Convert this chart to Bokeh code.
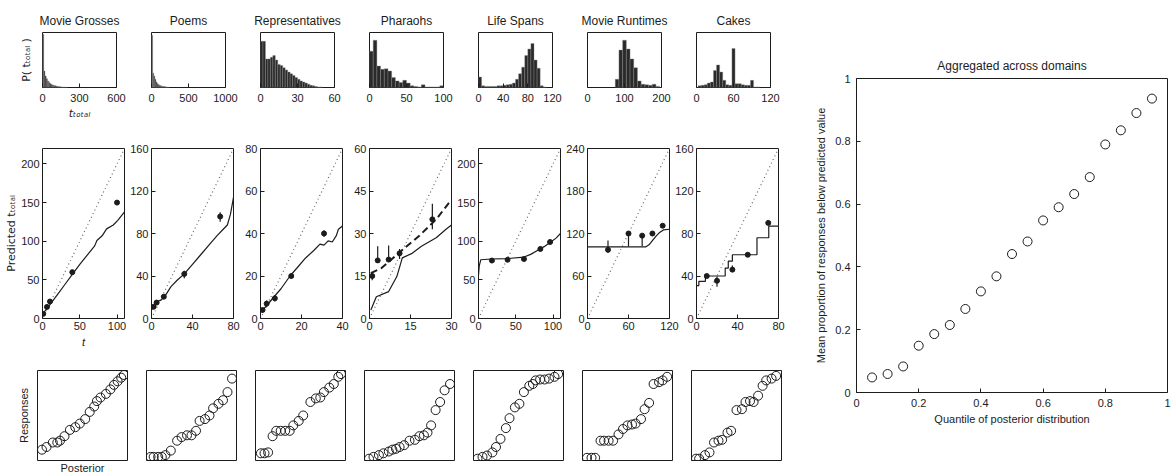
import numpy as np
from bokeh.plotting import figure
from bokeh.layouts import row, column
from bokeh.models import Range1d, FixedTicker
from bokeh.embed import file_html
from bokeh.resources import INLINE

FONT = "Liberation Sans"
SUB_FONT = "DejaVu Sans"
INK = "#1c1c1c"

domains = ["Movie Grosses", "Poems", "Representatives", "Pharaohs",
           "Life Spans", "Movie Runtimes", "Cakes"]

# ---------------- prior distributions P(t_total) ----------------
grosses_bin_width = 10
grosses_bins = [5, 15, 25, 35, 45, 55, 65, 75, 85, 95, 105, 115, 125, 135, 145, 155, 165, 175, 185, 195]
grosses_freq = [0.97, 0.30, 0.21, 0.16, 0.12, 0.09, 0.07, 0.055, 0.045, 0.035, 0.03, 0.025, 0.02, 0.015, 0.012, 0.01, 0.008, 0.006, 0.005, 0.004]

poems_bin_width = 15
poems_bins = [7.5, 22.5, 37.5, 52.5, 67.5, 82.5, 97.5, 112.5, 127.5, 142.5, 157.5, 172.5, 187.5, 202.5, 217.5, 232.5]
poems_freq = [0.95, 0.26, 0.21, 0.15, 0.10, 0.07, 0.05, 0.04, 0.03, 0.025, 0.02, 0.016, 0.013, 0.01, 0.008, 0.006]

reps_bin_width = 2
reps_bins = [1, 3, 5, 7, 9, 11, 13, 15, 17, 19, 21, 23, 25, 27, 29, 31, 33, 35, 37, 39, 41, 43, 45, 47, 49]
reps_freq = [0.84, 0.84, 0.52, 0.52, 0.55, 0.58, 0.50, 0.42, 0.40, 0.36, 0.32, 0.28, 0.25, 0.22, 0.18, 0.15, 0.12, 0.10, 0.08, 0.06, 0.04, 0.03, 0.02, 0.01, 0.01]

pharaohs_bin_width = 5
pharaohs_bins = [2.5, 7.5, 12.5, 17.5, 22.5, 27.5, 32.5, 37.5, 42.5, 47.5, 52.5, 57.5, 62.5, 67.5, 72.5, 77.5, 82.5, 87.5, 92.5, 97.5]
pharaohs_freq = [0.66, 0.86, 0.39, 0.33, 0.34, 0.30, 0.18, 0.12, 0.09, 0.13, 0.08, 0.03, 0.02, 0.01, 0.05, 0.01, 0.01, 0.01, 0.01, 0.03]

life_bin_width = 5
life_bins = [2.5, 7.5, 12.5, 17.5, 22.5, 27.5, 32.5, 37.5, 42.5, 47.5, 52.5, 57.5, 62.5, 67.5, 72.5, 77.5, 82.5, 87.5, 92.5, 97.5, 102.5, 107.5]
life_freq = [0.19, 0.03, 0.02, 0.02, 0.02, 0.02, 0.03, 0.03, 0.04, 0.05, 0.06, 0.08, 0.15, 0.25, 0.37, 0.58, 0.70, 0.80, 0.50, 0.35, 0.03, 0.01]

runtimes_bin_width = 10
runtimes_bins = [80, 90, 100, 110, 120, 130, 140, 150, 160, 170, 180, 190]
runtimes_freq = [0.15, 0.68, 0.86, 0.70, 0.52, 0.36, 0.12, 0.06, 0.05, 0.04, 0.06, 0.02]

cakes_bin_width = 5
cakes_bins = [5, 10, 15, 20, 25, 30, 35, 40, 45, 50, 55, 60, 65, 70, 75, 80, 85, 90, 95, 100]
cakes_freq = [0.03, 0.04, 0.05, 0.08, 0.10, 0.31, 0.41, 0.28, 0.13, 0.05, 0.04, 0.71, 0.07, 0.07, 0.05, 0.04, 0.04, 0.13, 0.01, 0.01]

prior_xmax = [600, 1000, 60, 100, 120, 200, 120]
prior_ticks = [[0, 300, 600], [0, 500, 1000], [0, 30, 60], [0, 50, 100],
               [0, 40, 80, 120], [0, 100, 200], [0, 60, 120]]

# ---------------- predictions: responses and model ----------------
grosses_t = [1, 6, 10, 40, 100]
grosses_resp = [6, 15, 22, 60, 150]
grosses_lo = [4, 13, 20, 58, 148]
grosses_hi = [8, 17, 24, 62, 152]
grosses_model_t = [0, 2, 5, 10, 20, 30, 40, 50, 60, 70, 73, 80, 86, 95, 101, 110]
grosses_model = [3, 8, 12, 18, 31, 44, 57, 70, 82, 94, 101, 107, 116, 121, 127, 138]

poems_t = [2, 5, 12, 32, 67]
poems_resp = [11, 15, 20.5, 42, 96]
poems_lo = [10, 14, 19, 38, 91]
poems_hi = [12, 16, 22, 45, 100]
poems_model_t = [0, 3, 6.4, 9, 12.8, 19, 25, 32, 40, 48, 56, 64, 70, 74, 77, 80]
poems_model = [8, 12, 16.5, 17, 20.6, 30, 36, 42, 51, 60, 69, 78, 84, 88, 98, 114]

reps_t = [1, 3, 7, 15, 31]
reps_resp = [4, 7, 9.5, 20, 40]
reps_lo = [3, 5.5, 8, 19, 38.5]
reps_hi = [5, 8.5, 11, 21, 41.5]
reps_model_t = [0, 3, 6.4, 10, 14.4, 18, 22, 26, 29, 31, 33, 35, 37, 38, 40]
reps_model = [3, 6, 10, 14, 20, 24, 28.5, 32, 35, 34.5, 36.5, 36, 39, 42, 43.5]

pharaohs_t = [1, 3, 7, 11, 23]
pharaohs_resp = [15, 20.5, 20.8, 23, 35]
pharaohs_lo = [13.5, 20.5, 20.8, 21, 31.5]
pharaohs_hi = [16, 25.5, 25.8, 24.5, 40.5]
pharaohs_model_t = [0.5, 2.5, 7, 10, 12, 15.6, 19, 24.4, 28, 30]
pharaohs_model = [3, 7.7, 9.5, 14.8, 21.4, 23, 25.5, 28.5, 31.5, 33]
pharaohs_alt_t = [0.5, 4.4, 8, 13, 18, 24.4, 30]
pharaohs_alt = [16, 17.8, 20.8, 25, 29, 35, 42]

life_t = [18, 39, 61, 83, 96]
life_resp = [75, 76, 77, 90, 99]
life_lo = [73, 74, 75, 88, 97]
life_hi = [77, 78, 80, 92, 101]
life_model_t = [0, 1, 3, 17, 38, 61, 70, 79, 88, 97, 104, 110]
life_model = [56, 68, 76, 77, 77.5, 79.5, 83, 88, 93, 99, 104, 110]

runtimes_t = [30, 60, 80, 95, 110]
runtimes_resp = [97, 120, 117, 120, 131]
runtimes_lo = [93, 102, 102, 118, 129]
runtimes_hi = [110, 122, 119, 122, 133]
runtimes_model_t = [0, 85, 90, 95, 100, 105, 111, 120]
runtimes_model = [101, 101, 104, 110, 116, 121, 125, 126]

cakes_t = [10, 20, 35, 50, 70]
cakes_resp = [40, 35.5, 46, 60, 90]
cakes_lo = [38, 30, 44, 59, 89]
cakes_hi = [42, 39.6, 50, 61, 91]
cakes_model_t = [0, 2.3, 8.7, 28, 31, 35, 59, 70.5, 80]
cakes_model = [31, 35, 40, 47.5, 54, 60, 76, 87, 87]

pred_xmax = [110, 80, 40, 30, 110, 120, 80]
pred_ymax = [220, 160, 80, 60, 220, 240, 160]
pred_xticks = [[0, 50, 100], [0, 40, 80], [0, 20, 40], [0, 15, 30],
               [0, 50, 100], [0, 60, 120], [0, 40, 80]]
pred_yticks = [[0, 50, 100, 150, 200], [0, 40, 80, 120, 160], [0, 20, 40, 60, 80],
               [0, 15, 30, 45, 60], [0, 50, 100, 150, 200], [0, 60, 120, 180, 240],
               [0, 40, 80, 120, 160]]

# ---------------- response quantiles vs posterior quantiles ----------------
grosses_post_q = [0.05, 0.10, 0.17, 0.22, 0.25, 0.30, 0.36, 0.42, 0.47, 0.53, 0.58, 0.63, 0.66, 0.70, 0.76, 0.81, 0.85, 0.89, 0.93, 0.96]
grosses_resp_q = [0.12, 0.15, 0.20, 0.20, 0.22, 0.27, 0.34, 0.37, 0.41, 0.46, 0.54, 0.60, 0.66, 0.70, 0.74, 0.79, 0.84, 0.88, 0.92, 0.95]

poems_post_q = [0.045, 0.08, 0.13, 0.17, 0.21, 0.27, 0.34, 0.39, 0.45, 0.50, 0.55, 0.59, 0.65, 0.70, 0.74, 0.80, 0.85, 0.90, 0.95]
poems_resp_q = [0.04, 0.04, 0.04, 0.04, 0.06, 0.11, 0.22, 0.26, 0.28, 0.28, 0.33, 0.44, 0.46, 0.50, 0.58, 0.63, 0.67, 0.76, 0.91]

reps_post_q = [0.06, 0.10, 0.14, 0.19, 0.23, 0.28, 0.33, 0.38, 0.42, 0.48, 0.53, 0.61, 0.67, 0.72, 0.76, 0.82, 0.87, 0.92, 0.95]
reps_resp_q = [0.08, 0.08, 0.09, 0.27, 0.33, 0.33, 0.33, 0.33, 0.39, 0.44, 0.50, 0.65, 0.69, 0.70, 0.76, 0.81, 0.85, 0.93, 0.96]

pharaohs_post_q = [0.05, 0.10, 0.16, 0.21, 0.27, 0.31, 0.35, 0.39, 0.44, 0.50, 0.56, 0.61, 0.66, 0.70, 0.74, 0.79, 0.84, 0.89, 0.95]
pharaohs_resp_q = [0.02, 0.04, 0.06, 0.08, 0.10, 0.12, 0.13, 0.15, 0.17, 0.22, 0.23, 0.27, 0.28, 0.31, 0.39, 0.56, 0.65, 0.78, 0.85]

life_post_q = [0.045, 0.10, 0.15, 0.21, 0.25, 0.30, 0.36, 0.40, 0.46, 0.51, 0.56, 0.62, 0.66, 0.69, 0.74, 0.79, 0.84, 0.90, 0.94]
life_resp_q = [0.02, 0.04, 0.055, 0.09, 0.15, 0.24, 0.36, 0.47, 0.59, 0.63, 0.76, 0.83, 0.85, 0.89, 0.90, 0.90, 0.91, 0.93, 0.96]

runtimes_post_q = [0.05, 0.10, 0.14, 0.20, 0.24, 0.29, 0.34, 0.40, 0.45, 0.50, 0.55, 0.59, 0.65, 0.69, 0.74, 0.79, 0.85, 0.89, 0.94]
runtimes_resp_q = [0.03, 0.03, 0.03, 0.22, 0.22, 0.22, 0.22, 0.29, 0.35, 0.39, 0.40, 0.41, 0.46, 0.57, 0.64, 0.85, 0.87, 0.89, 0.93]

cakes_post_q = [0.05, 0.085, 0.15, 0.20, 0.25, 0.30, 0.34, 0.40, 0.44, 0.50, 0.56, 0.60, 0.65, 0.69, 0.74, 0.79, 0.83, 0.89, 0.94]
cakes_resp_q = [0.02, 0.02, 0.06, 0.09, 0.20, 0.22, 0.23, 0.31, 0.33, 0.56, 0.57, 0.65, 0.66, 0.65, 0.72, 0.83, 0.89, 0.91, 0.94]

# ---------------- aggregated across domains ----------------
agg_quantile = [0.05, 0.10, 0.15, 0.20, 0.25, 0.30, 0.35, 0.40, 0.45, 0.50,
                0.55, 0.60, 0.65, 0.70, 0.75, 0.80, 0.85, 0.90, 0.95]
agg_proportion = [0.048, 0.059, 0.083, 0.149, 0.186, 0.215, 0.266, 0.322, 0.370, 0.441,
                  0.481, 0.548, 0.590, 0.632, 0.686, 0.790, 0.835, 0.890, 0.936]

priors = [(grosses_bins, grosses_freq, grosses_bin_width),
          (poems_bins, poems_freq, poems_bin_width),
          (reps_bins, reps_freq, reps_bin_width),
          (pharaohs_bins, pharaohs_freq, pharaohs_bin_width),
          (life_bins, life_freq, life_bin_width),
          (runtimes_bins, runtimes_freq, runtimes_bin_width),
          (cakes_bins, cakes_freq, cakes_bin_width)]

predictions = [
    (grosses_t, grosses_resp, grosses_lo, grosses_hi, grosses_model_t, grosses_model),
    (poems_t, poems_resp, poems_lo, poems_hi, poems_model_t, poems_model),
    (reps_t, reps_resp, reps_lo, reps_hi, reps_model_t, reps_model),
    (pharaohs_t, pharaohs_resp, pharaohs_lo, pharaohs_hi, pharaohs_model_t, pharaohs_model),
    (life_t, life_resp, life_lo, life_hi, life_model_t, life_model),
    (runtimes_t, runtimes_resp, runtimes_lo, runtimes_hi, runtimes_model_t, runtimes_model),
    (cakes_t, cakes_resp, cakes_lo, cakes_hi, cakes_model_t, cakes_model),
]

quantiles = [(grosses_post_q, grosses_resp_q), (poems_post_q, poems_resp_q),
             (reps_post_q, reps_resp_q), (pharaohs_post_q, pharaohs_resp_q),
             (life_post_q, life_resp_q), (runtimes_post_q, runtimes_resp_q),
             (cakes_post_q, cakes_resp_q)]

T_TOTAL = "t\u209c\u2092\u209c\u2090\u2097"


def new_fig(fw, fh, left, right, top, bottom, xr, yr, shift=0, title=None, title_gap=6):
    p = figure(frame_width=fw, frame_height=fh,
               min_border_left=left, min_border_right=right,
               min_border_top=top, min_border_bottom=bottom,
               x_range=Range1d(*xr), y_range=Range1d(*yr),
               output_backend="svg", toolbar_location=None,
               background_fill_color=None, border_fill_color=None,
               margin=(0, 0, 0, shift), title=title)
    p.outline_line_color = INK
    p.outline_line_width = 1
    p.xgrid.visible = False
    p.ygrid.visible = False
    for ax in p.axis:
        ax.axis_line_color = None
        ax.major_tick_in = 4
        ax.major_tick_out = 0
        ax.major_tick_line_color = INK
        ax.minor_tick_line_color = None
        ax.major_label_text_font = FONT
        ax.major_label_text_font_size = "11px"
        ax.major_label_text_color = INK
        ax.major_label_standoff = 3
        ax.axis_label_text_color = INK
        ax.axis_label_text_font_style = "normal"
        ax.axis_label_text_font_size = "11px"
        ax.axis_label_text_font = FONT
    if title:
        p.title.align = "center"
        p.title.text_font = FONT
        p.title.text_font_size = "12px"
        p.title.text_font_style = "normal"
        p.title.text_color = INK
        p.title.standoff = title_gap
    return p


def set_label(ax, text, standoff, font=FONT, style="normal"):
    ax.axis_label = text
    ax.axis_label_standoff = standoff
    ax.axis_label_text_font = font
    ax.axis_label_text_font_style = style


# ---------------- top row: priors ----------------
top_figs = []
for k, name in enumerate(domains):
    bins, freq, width = priors[k]
    p = new_fig(74, 55, 42 if k == 0 else 24, 20, 32, 45,
                (0, prior_xmax[k]), (0, 1), shift=0 if k == 0 else -9,
                title=name, title_gap=9)
    c = np.array(bins, dtype=float)
    p.quad(left=c - width / 2, right=c + width / 2, bottom=0, top=freq,
           fill_color="#2a2a2a", line_color="#8a8a8a", line_width=0.4)
    p.xaxis.ticker = FixedTicker(ticks=prior_ticks[k])
    p.yaxis.ticker = FixedTicker(ticks=[])
    p.xaxis.major_label_standoff = 6
    if k == 0:
        p.yaxis.major_label_standoff = 0
        set_label(p.yaxis[0], "P( " + T_TOTAL + " )", 10, font=SUB_FONT)
        set_label(p.xaxis[0], T_TOTAL, 2, font=SUB_FONT, style="italic")
    top_figs.append(p)

# ---------------- middle row: predictions ----------------
mid_figs = []
for k, name in enumerate(domains):
    t, resp, lo, hi, mt, mv = predictions[k]
    xmax, ymax = pred_xmax[k], pred_ymax[k]
    p = new_fig(82, 170, 42 if k == 0 else 28, 12, 16, 37,
                (0, xmax), (0, ymax), shift=0 if k == 0 else -13)
    p.line([0, xmax], [0, ymax], line_color="#6a6a6a", line_dash="1 3", line_width=1.2)
    if name == "Cakes":
        p.step(mt, mv, mode="after", line_color=INK, line_width=1.2)
    else:
        p.line(mt, mv, line_color=INK, line_width=1.2)
    if name == "Pharaohs":
        p.line(pharaohs_alt_t, pharaohs_alt, line_color=INK, line_width=2, line_dash="7 4")
    p.segment(x0=t, y0=lo, x1=t, y1=hi, line_color=INK, line_width=1.2)
    p.scatter(t, resp, size=5, fill_color=INK, line_color=INK)
    p.xaxis.ticker = FixedTicker(ticks=pred_xticks[k])
    p.yaxis.ticker = FixedTicker(ticks=pred_yticks[k])
    if k == 0:
        set_label(p.yaxis[0], "Predicted " + T_TOTAL, 0, font=SUB_FONT)
        set_label(p.xaxis[0], "t", 3, style="italic")
    mid_figs.append(p)

# ---------------- bottom row: quantile comparison ----------------
bot_figs = []
for k, name in enumerate(domains):
    q_post, q_resp = quantiles[k]
    p = new_fig(90, 90, 37 if k == 0 else 10, 9, 15, 13, (0, 1), (0, 1))
    if k == 0:
        for ax in p.axis:
            ax.ticker = FixedTicker(ticks=[])
            ax.major_label_standoff = 0
        set_label(p.yaxis[0], "Responses", 8)
        set_label(p.xaxis[0], "Posterior", 1)
    else:
        p.axis.visible = False
    p.scatter(q_post, q_resp, size=9, marker="circle", fill_color=None,
              line_color=INK, line_width=1)
    bot_figs.append(p)

# ---------------- right panel ----------------
agg = new_fig(311, 314, 66, 7, 78, 81, (0, 1), (0, 1),
              title="Aggregated across domains", title_gap=11)
agg.scatter(agg_quantile, agg_proportion, size=9, marker="circle", fill_color=None,
            line_color=INK, line_width=1)
ticks01 = [0, 0.2, 0.4, 0.6, 0.8, 1]
labels01 = {0: "0", 0.2: "0.2", 0.4: "0.4", 0.6: "0.6", 0.8: "0.8", 1: "1"}
for ax in (agg.xaxis[0], agg.yaxis[0]):
    ax.ticker = FixedTicker(ticks=ticks01)
    ax.major_label_overrides = labels01
    ax.major_label_standoff = 6
set_label(agg.xaxis[0], "Quantile of posterior distribution", 3)
set_label(agg.yaxis[0], "Mean proportion of responses below predicted value", 5)

left_block = column(row(*top_figs, spacing=0), row(*mid_figs, spacing=0),
                    row(*bot_figs, spacing=0), spacing=0)
page = row(left_block, agg, spacing=0)

with open("out.html", "w") as f:
    f.write(file_html(page, INLINE, title="Optimal predictions in everyday cognition"))
